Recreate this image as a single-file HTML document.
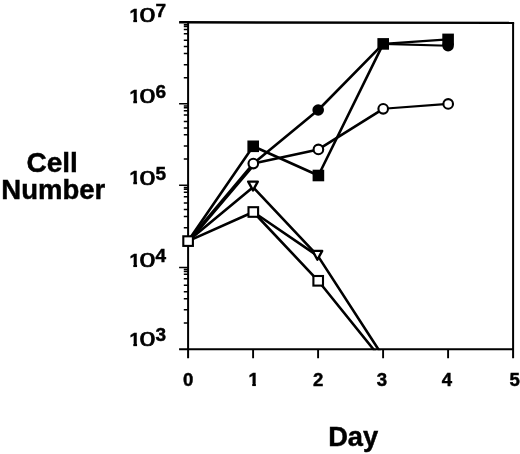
<!DOCTYPE html>
<html lang="en"><head><meta charset="utf-8"><title>Cell Number vs Day</title>
<style>
html,body{margin:0;padding:0;background:#fff;}
body{width:520px;height:454px;overflow:hidden;}
svg{display:block;filter:blur(0.35px);}
text{font-family:"Liberation Sans",Arial,Helvetica,sans-serif;fill:#000;}
.b{font-weight:bold;}
.ax{stroke:#000;stroke-width:2.0;fill:none;stroke-linecap:butt;}
.tk{stroke:#000;stroke-width:1.5;fill:none;}
.tx{stroke:#000;stroke-width:1.9;fill:none;}
.ln{stroke:#000;stroke-width:2.6;fill:none;stroke-linecap:round;stroke-linejoin:round;}
.ln2{stroke:#000;stroke-width:2.1;fill:none;stroke-linecap:round;}
.om{fill:#fff;stroke:#000;stroke-width:2.1;}
.fm{fill:#000;stroke:none;}
.z{stroke:#000;stroke-width:0.8;vector-effect:non-scaling-stroke;}
.b{stroke:#000;stroke-width:0.45;}
</style></head><body>
<svg width="520" height="454" viewBox="0 0 520 454">
<rect x="0" y="0" width="520" height="454" fill="#fff"/>

<path class="ax" d="M513.1,22.9 V358.2 M179.1,349.2 H513.1 M188.1,22.5 V358.2"/>
<path class="ax" style="stroke-width:2.4" d="M179.1,22.3 L514.15,22.9"/>
<path class="tk" d="M183.8,323.02 H188.1 M183.8,309.85 H188.1 M183.8,298.65 H188.1 M183.8,291.69 H188.1 M183.8,285.23 H188.1 M183.8,278.85 H188.1 M183.8,274.35 H188.1 M183.8,271.49 H188.1 M183.8,269.61 H188.1 M179.1,267.40 H188.1 M183.8,241.10 H188.1 M183.8,227.86 H188.1 M183.8,216.60 H188.1 M183.8,209.61 H188.1 M183.8,203.12 H188.1 M183.8,196.71 H188.1 M183.8,192.19 H188.1 M183.8,189.31 H188.1 M183.8,187.42 H188.1 M179.1,185.20 H188.1 M183.8,159.12 H188.1 M183.8,146.00 H188.1 M183.8,134.83 H188.1 M183.8,127.91 H188.1 M183.8,121.47 H188.1 M183.8,115.11 H188.1 M183.8,110.63 H188.1 M183.8,107.78 H188.1 M183.8,105.90 H188.1 M179.1,103.70 H188.1 M183.8,77.72 H188.1 M183.8,64.64 H188.1 M183.8,53.52 H188.1 M183.8,46.62 H188.1 M183.8,40.20 H188.1 M183.8,33.87 H188.1 M183.8,29.40 H188.1 M183.8,26.56 H188.1 M183.8,24.69 H188.1"/>
<path class="tx" d="M253.10,349.2 V358.2 M318.10,349.2 V358.2 M383.10,349.2 V358.2 M448.10,349.2 V358.2"/>
<defs><clipPath id="pa"><rect x="0" y="0" width="520" height="350.25"/></clipPath></defs>
<polyline class="ln" points="188.1,241.1 253.2,146.3 318.4,175.5 383.2,43.9"/>
<polyline class="ln2" points="383.2,43.9 448.1,39.4"/>
<polyline class="ln" points="188.1,241.1 253.3,163.6 318.2,110.0 383.2,43.9"/>
<polyline class="ln2" points="383.2,43.9 448.1,45.7"/>
<polyline class="ln" points="188.1,242.3 254.1,164.6"/>
<polyline class="ln" points="253.3,163.6 318.4,149.4 383.2,108.8"/>
<polyline class="ln2" points="383.2,108.8 448.2,103.9"/>
<g clip-path="url(#pa)"><polyline class="ln" points="188.1,241.1 253.0,187.2 318.0,256.1 382.2,355.2"/>
<polyline class="ln" points="188.1,241.1 253.3,212.0 318.2,280.8 378.2,355.2"/></g>
<polyline class="ln" points="253.3,212.0 318.0,256.1"/>
<rect class="fm" x="247.40" y="140.50" width="11.6" height="11.6"/>
<rect class="fm" x="312.60" y="169.70" width="11.6" height="11.6"/>
<rect class="fm" x="377.40" y="38.10" width="11.6" height="11.6"/>
<rect class="fm" x="442.30" y="33.60" width="11.6" height="11.6"/>
<circle class="fm" cx="318.2" cy="110.0" r="5.8"/>
<circle class="fm" cx="448.1" cy="45.7" r="5.8"/>
<circle class="om" cx="253.3" cy="163.6" r="4.8"/>
<circle class="om" cx="318.4" cy="149.4" r="4.8"/>
<circle class="om" cx="383.2" cy="108.8" r="4.8"/>
<circle class="om" cx="448.2" cy="103.9" r="4.8"/>
<path class="om" style="stroke-width:2.4" stroke-linejoin="round" d="M248.20,181.60 H257.80 L253.00,190.40 Z"/>
<path class="om" style="stroke-width:2.4" stroke-linejoin="round" d="M312.60,250.90 H322.20 L317.40,259.70 Z"/>
<rect class="om" x="183.30" y="236.30" width="9.6" height="9.6"/>
<rect class="om" x="248.50" y="207.20" width="9.6" height="9.6"/>
<rect class="om" x="313.40" y="276.00" width="9.6" height="9.6"/>
<defs><clipPath id="c1"><rect x="-2" y="-20" width="14" height="17.7"/><rect x="3.85" y="-3" width="3.7" height="4"/></clipPath><clipPath id="c1b"><rect x="-2" y="-20" width="14" height="17.7"/><rect x="3.75" y="-3" width="3.6" height="4"/></clipPath></defs>
<g>
<g transform="translate(129.5,345.8)"><text class="b" font-size="19" clip-path="url(#c1)" x="0" y="0">1</text></g>
<text class="z" font-size="19" transform="translate(139.4,346.0) scale(1.51,1.03)" x="0" y="0">0</text>
<text class="b" font-size="19" x="155.4" y="340.9">3</text>
</g>
<g>
<g transform="translate(129.5,266.6)"><text class="b" font-size="19" clip-path="url(#c1)" x="0" y="0">1</text></g>
<text class="z" font-size="19" transform="translate(139.4,266.8) scale(1.51,1.03)" x="0" y="0">0</text>
<text class="b" font-size="19" x="155.4" y="261.8">4</text>
</g>
<g>
<g transform="translate(129.5,184.4)"><text class="b" font-size="19" clip-path="url(#c1)" x="0" y="0">1</text></g>
<text class="z" font-size="19" transform="translate(139.4,184.6) scale(1.51,1.03)" x="0" y="0">0</text>
<text class="b" font-size="19" x="155.4" y="179.5">5</text>
</g>
<g>
<g transform="translate(129.5,103.0)"><text class="b" font-size="19" clip-path="url(#c1)" x="0" y="0">1</text></g>
<text class="z" font-size="19" transform="translate(139.4,103.2) scale(1.51,1.03)" x="0" y="0">0</text>
<text class="b" font-size="19" x="155.4" y="98.0">6</text>
</g>
<g>
<g transform="translate(129.5,21.8)"><text class="b" font-size="19" clip-path="url(#c1)" x="0" y="0">1</text></g>
<text class="z" font-size="19" transform="translate(139.4,21.9) scale(1.51,1.03)" x="0" y="0">0</text>
<text class="b" font-size="19" x="155.4" y="16.9">7</text>
</g>
<text class="b" font-size="18.6" text-anchor="middle" x="188.1" y="385.5">0</text>
<g transform="translate(248.5,385.5)"><text class="b" font-size="18.6" clip-path="url(#c1b)" x="0" y="0">1</text></g>
<text class="b" font-size="18.6" text-anchor="middle" x="318.1" y="385.5">2</text>
<text class="b" font-size="18.6" text-anchor="middle" x="381.9" y="385.5">3</text>
<text class="b" font-size="18.6" text-anchor="middle" x="446.9" y="385.5">4</text>
<text class="b" font-size="18.6" text-anchor="middle" x="514.7" y="385.5">5</text>
<text class="b" font-size="28" text-anchor="middle" x="52.2" y="172.4">Cell</text>
<text class="b" font-size="27.5" text-anchor="middle" x="53.3" y="199.4">Number</text>
<text class="b" font-size="27.3" text-anchor="middle" x="353.2" y="446.3">Day</text>
</svg></body></html>
